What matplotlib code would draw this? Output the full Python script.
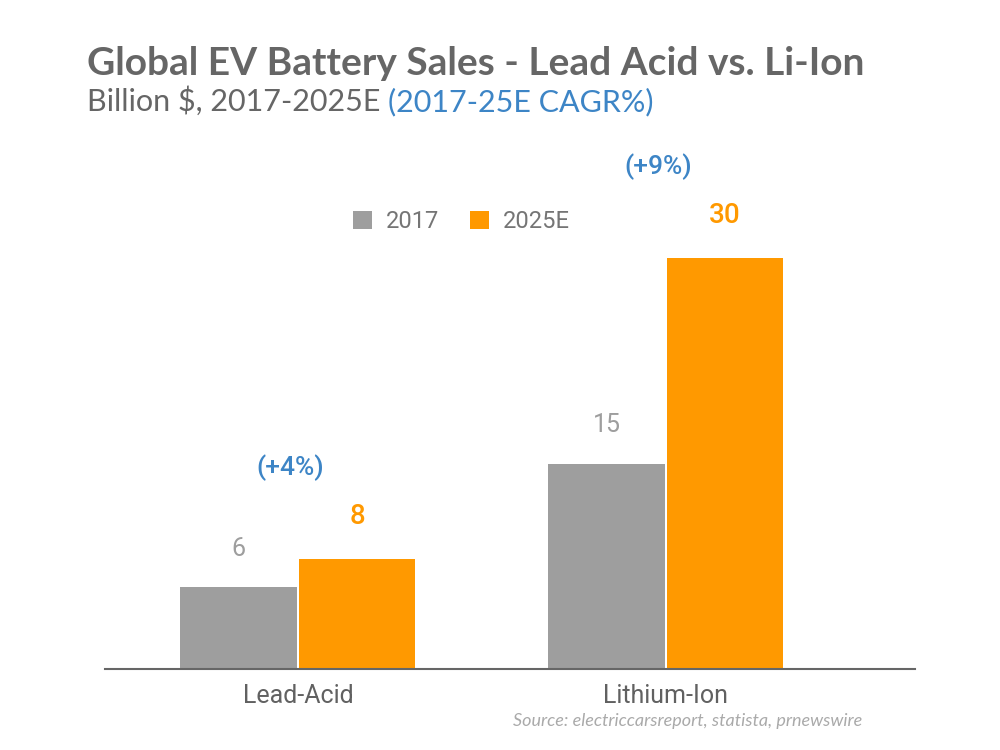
import matplotlib
matplotlib.use("Agg")
import matplotlib.pyplot as plt
import numpy as np

categories = ["Lead-Acid", "Lithium-Ion"]
series_names = ["2017", "2025E"]
sales_2017 = [6, 15]
sales_2025 = [8, 30]
cagr_labels = ["(+4%)", "(+9%)"]

GRAY = "#9e9e9e"
ORANGE = "#ff9900"
BLUE = "#3d85c6"
TEXT = "#666666"

fig = plt.figure(figsize=(10, 7.5), dpi=100)
# axes placed in pixel terms: baseline at y=669, x from 105 to 915
ax = fig.add_axes([0.105, (750 - 669) / 750, 0.81, (669 - 120) / 750])

x = np.arange(len(categories))
w = 0.316
off = 0.161
ax.bar(x - off, sales_2017, w, color=GRAY, label=series_names[0], zorder=2)
ax.bar(x + off, sales_2025, w, color=ORANGE, label=series_names[1], zorder=2)

ax.set_xlim(-0.524, 1.677)
ax.set_ylim(0, 549 / 13.7)

for xi, v in zip(x, sales_2017):
    ax.text(xi - off, v + 1.9, str(v), ha="center", va="bottom", color=GRAY,
            fontsize=18, family="Roboto")
for xi, v in zip(x, sales_2025):
    ax.text(xi + off, v + 2.15, str(v), ha="center", va="bottom", color=ORANGE,
            fontsize=20, family="Roboto", fontweight="medium")
for xi, v, lab in zip(x, sales_2025, cagr_labels):
    ax.text(xi - 0.02, v + 5.7, lab, ha="center", va="bottom", color=BLUE,
            fontsize=19, family="Roboto", fontweight="medium")

for s in ["top", "right", "left"]:
    ax.spines[s].set_visible(False)
ax.spines["bottom"].set_color("#666666")
ax.spines["bottom"].set_linewidth(1.5)
ax.set_yticks([])
ax.set_xticks(x)
ax.set_xticklabels(categories, fontsize=18, family="Roboto", color="#616161")
ax.tick_params(axis="x", length=0, pad=11)

leg = ax.legend(loc="upper center", bbox_to_anchor=(0.44, 0.875), ncol=2,
                frameon=False, handlelength=0.8, handleheight=0.8,
                columnspacing=1.3, handletextpad=0.6,
                prop={"family": "Roboto", "size": 17})
for t in leg.get_texts():
    t.set_color("#757575")

fig.text(0.087, 0.9, "Global EV Battery Sales - Lead Acid vs. Li-Ion",
         fontsize=28, fontweight="bold", color=TEXT, family="Lato", va="baseline")
sub = fig.text(0.087, 0.852, "Billion $, 2017-2025E ", fontsize=22, color=TEXT,
               family="Lato", va="baseline")
fig.canvas.draw()
bb = sub.get_window_extent(fig.canvas.get_renderer())
fig.text(bb.x1 / 1000, 0.852, "(2017-25E CAGR%)", fontsize=22, color=BLUE,
         family="Lato", va="baseline")

fig.text(0.862, 0.032, "Source: electriccarsreport, statista, prnewswire",
         fontsize=13, style="italic", color="#aaaaaa",
         family="Lato", ha="right", va="baseline")

fig.savefig("out.png", dpi=100)
